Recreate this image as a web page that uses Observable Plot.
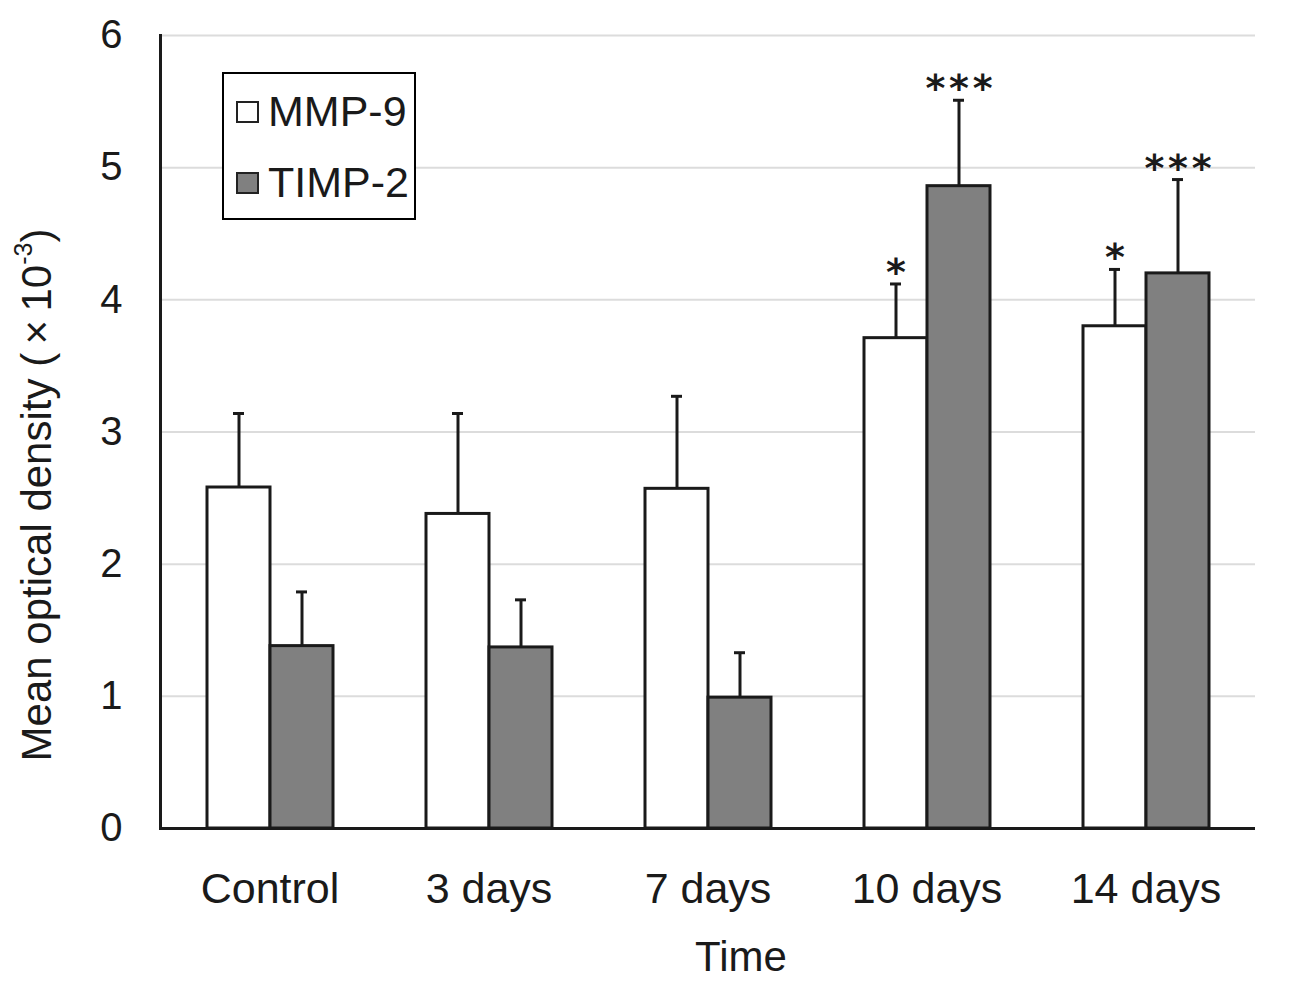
<!DOCTYPE html>
<html>
<head>
<meta charset="utf-8">
<script src="https://cdn.jsdelivr.net/npm/d3@7"></script>
<script src="https://cdn.jsdelivr.net/npm/@observablehq/plot@0.6"></script>
<style>
  html, body { margin: 0; padding: 0; background: #fff; }
  #wrap { position: relative; width: 1294px; height: 983px; font-family: "Liberation Sans", Arial, sans-serif; color: #1a1a1a; }
  #wrap svg { display: block; }
  .ylabel { position: absolute; left: 37px; top: 495px; transform: translate(-50%, -50%) rotate(-90deg); white-space: nowrap; font-size: 42px; line-height: 1; }
  .ylabel sup { font-size: 25px; vertical-align: 19px; line-height: 0; }
  .xlabel { position: absolute; left: 741px; top: 936px; transform: translateX(-50%); white-space: nowrap; font-size: 42px; line-height: 1; }
  .legend { position: absolute; left: 222px; top: 72px; width: 194px; height: 148px; box-sizing: border-box; border: 2px solid #000; background: #fff; }
  .legend .item { position: absolute; left: 12px; display: flex; align-items: center; font-size: 43px; line-height: 1; }
  .legend .sw { width: 19px; height: 18px; border: 2.5px solid #222; margin-right: 9px; }
</style>
</head>
<body>
<div id="wrap"></div>
<script>
const categories = ["Control", "3 days", "7 days", "10 days", "14 days"];
const series = ["MMP-9", "TIMP-2"];
const seriesColors = ["#ffffff", "#808080"];
const mmp9 = [2.58, 2.38, 2.57, 3.71, 3.80];
const mmp9Upper = [3.14, 3.14, 3.27, 4.12, 4.23];
const mmp9Sig = ["", "", "", "*", "*"];
const timp2 = [1.38, 1.37, 0.99, 4.86, 4.20];
const timp2Upper = [1.79, 1.73, 1.33, 5.51, 4.91];
const timp2Sig = ["", "", "", "***", "***"];
const yTicks = [0, 1, 2, 3, 4, 5, 6];

const data = [];
categories.forEach((c, i) => {
  data.push({category: c, series: "MMP-9", value: mmp9[i], upper: mmp9Upper[i], sig: mmp9Sig[i]});
  data.push({category: c, series: "TIMP-2", value: timp2[i], upper: timp2Upper[i], sig: timp2Sig[i]});
});
const sigData = data.filter(d => d.sig).map(d => ({...d, label: d.sig.split("").join("\u200A")}));

const chart = Plot.plot({
  width: 1294,
  height: 983,
  marginLeft: 160,
  marginRight: 39,
  marginTop: 35,
  marginBottom: 155,
  style: {fontSize: "42px", fontFamily: "'Liberation Sans', Arial, sans-serif", color: "#1a1a1a", background: "#fff"},
  fx: {domain: categories, padding: 0},
  x: {domain: series, paddingInner: 0, paddingOuter: 0.738, axis: null},
  y: {domain: [0, 6]},
  color: {domain: series, range: seriesColors},
  marks: [
    Plot.gridY(yTicks, {stroke: "#dcdcdc", strokeOpacity: 1, strokeWidth: 2}),
    Plot.barY(data, {fx: "category", x: "series", y: "value", fill: "series", stroke: "#1a1a1a", strokeWidth: 3}),
    Plot.ruleX(data, {fx: "category", x: "series", y1: "value", y2: "upper", stroke: "#1a1a1a", strokeWidth: 3}),
    Plot.tickY(data, {fx: "category", x: "series", y: "upper", stroke: "#1a1a1a", strokeWidth: 3, insetLeft: 26, insetRight: 26}),
    Plot.text(sigData, {fx: "category", x: "series", y: "upper", text: "label", lineAnchor: "bottom", dy: 1, fontSize: 38, fontFamily: "'DejaVu Sans', sans-serif", fontWeight: "bold", fill: "#1a1a1a"}),
    Plot.ruleY([0], {stroke: "#1a1a1a", strokeWidth: 3}),
    Plot.frame({anchor: "left", facetAnchor: "left", stroke: "#1a1a1a", strokeWidth: 3}),
    Plot.axisY(yTicks, {tickSize: 0, tickPadding: 38, label: null, tickFormat: d => String(d), fontSize: 40}),
    Plot.axisFx({anchor: "bottom", tickSize: 0, tickPadding: 44, label: null, fontSize: 43})
  ]
});

const wrap = document.getElementById("wrap");
wrap.appendChild(chart);

const yl = document.createElement("div");
yl.className = "ylabel";
yl.innerHTML = "Mean optical density (\u2009×\u200910<sup>-3</sup>)";
wrap.appendChild(yl);

const xl = document.createElement("div");
xl.className = "xlabel";
xl.textContent = "Time";
wrap.appendChild(xl);

const lg = document.createElement("div");
lg.className = "legend";
const tops = [16, 87];
series.forEach((s, i) => {
  const it = document.createElement("div");
  it.className = "item";
  it.style.top = tops[i] + "px";
  const sw = document.createElement("div");
  sw.className = "sw";
  sw.style.background = seriesColors[i];
  it.appendChild(sw);
  const t = document.createElement("span");
  t.textContent = s;
  it.appendChild(t);
  lg.appendChild(it);
});
wrap.appendChild(lg);
</script>
</body>
</html>
